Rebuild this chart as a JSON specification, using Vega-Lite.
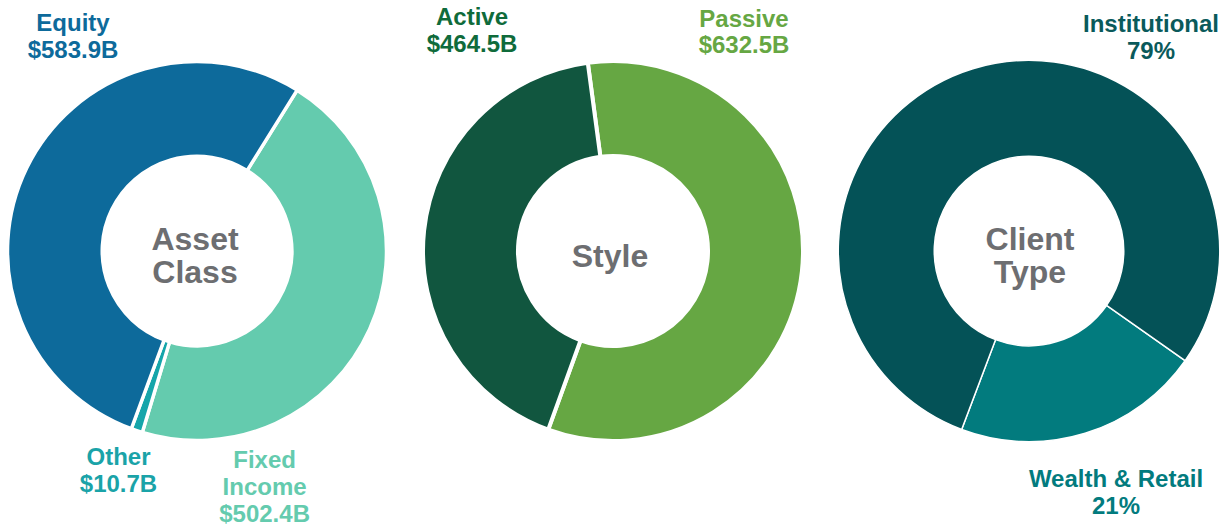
{
  "$schema": "https://vega.github.io/schema/vega-lite/v6.json",
  "width": 1222,
  "height": 502,
  "padding": 0,
  "autosize": {"type": "pad"},
  "background": "white",
  "config": {"view": {"stroke": null}},
  "datasets": {
    "slices": [
      {"chart": "Asset Class", "name": "Fixed Income", "value": 502.4, "ord": 1},
      {"chart": "Asset Class", "name": "Other", "value": 10.7, "ord": 2},
      {"chart": "Asset Class", "name": "Equity", "value": 583.9, "ord": 3},
      {"chart": "Style", "name": "Passive", "value": 632.5, "ord": 1},
      {"chart": "Style", "name": "Active", "value": 464.5, "ord": 2},
      {"chart": "Client Type", "name": "Wealth & Retail", "value": 21, "ord": 1},
      {"chart": "Client Type", "name": "Institutional", "value": 79, "ord": 2}
    ],
    "labels": [
      {"chart": "Asset Class", "name": "Equity", "label": "Equity\n$583.9B"},
      {"chart": "Asset Class", "name": "Other", "label": "Other\n$10.7B"},
      {"chart": "Asset Class", "name": "Fixed Income", "label": "Fixed\nIncome\n$502.4B"},
      {"chart": "Style", "name": "Active", "label": "Active\n$464.5B"},
      {"chart": "Style", "name": "Passive", "label": "Passive\n$632.5B"},
      {"chart": "Client Type", "name": "Institutional", "label": "Institutional\n79%"},
      {"chart": "Client Type", "name": "Wealth & Retail", "label": "Wealth & Retail\n21%"},
      {"chart": "Asset Class", "name": "center", "label": "Asset\nClass"},
      {"chart": "Style", "name": "center", "label": "Style"},
      {"chart": "Client Type", "name": "center", "label": "Client\nType"}
    ]
  },
  "encoding": {
    "x": {
      "field": "chart",
      "type": "nominal",
      "scale": {"type": "point", "domain": ["Asset Class", "Style", "Client Type"], "padding": 0.46875},
      "axis": null
    }
  },
  "layer": [
    {
      "data": {"name": "slices"},
      "transform": [{"filter": "datum.chart === 'Asset Class'"}],
      "mark": {"type": "arc", "outerRadius": 189.5, "innerRadius": 94.75, "stroke": "white", "strokeWidth": 3.5},
      "encoding": {
        "theta": {"field": "value", "type": "quantitative", "stack": true, "scale": {"range": [0.557, 6.840]}},
        "order": {"field": "ord", "type": "quantitative"},
        "color": {
          "field": "name", "type": "nominal", "legend": null,
          "scale": {
            "domain": ["Equity", "Other", "Fixed Income", "Active", "Passive", "Institutional", "Wealth & Retail"],
            "range": ["#0D6A9B", "#15A5AA", "#64CBAE", "#11563F", "#66A743", "#045257", "#027B7E"]
          }
        }
      }
    },
    {
      "data": {"name": "slices"},
      "transform": [{"filter": "datum.chart === 'Style'"}],
      "mark": {"type": "arc", "outerRadius": 190, "innerRadius": 95, "stroke": "white", "strokeWidth": 4},
      "encoding": {
        "theta": {"field": "value", "type": "quantitative", "stack": true, "scale": {"range": [-0.133, 6.150]}},
        "order": {"field": "ord", "type": "quantitative"},
        "color": {"field": "name", "type": "nominal", "legend": null}
      }
    },
    {
      "data": {"name": "slices"},
      "transform": [{"filter": "datum.chart === 'Client Type'"}],
      "mark": {"type": "arc", "outerRadius": 190.75, "innerRadius": 94.75, "stroke": "white", "strokeWidth": 1.5},
      "encoding": {
        "theta": {"field": "value", "type": "quantitative", "stack": true, "scale": {"range": [2.183, 8.466]}},
        "order": {"field": "ord", "type": "quantitative"},
        "color": {"field": "name", "type": "nominal", "legend": null}
      }
    },
    {
      "data": {"name": "labels"},
      "transform": [{"filter": "datum.name === 'Equity'"}],
      "mark": {"type": "text", "font": "Liberation Sans", "fontWeight": "bold", "fontSize": 24, "lineHeight": 26.5, "lineBreak": "\n", "align": "center", "baseline": "alphabetic", "color": "#0D6A9B", "dx": -124, "dy": -220},
      "encoding": {"text": {"field": "label"}}
    },
    {
      "data": {"name": "labels"},
      "transform": [{"filter": "datum.name === 'Other'"}],
      "mark": {"type": "text", "font": "Liberation Sans", "fontWeight": "bold", "fontSize": 24, "lineHeight": 27, "lineBreak": "\n", "align": "center", "baseline": "alphabetic", "color": "#1AA3A8", "dx": -78.5, "dy": 213.5},
      "encoding": {"text": {"field": "label"}}
    },
    {
      "data": {"name": "labels"},
      "transform": [{"filter": "datum.name === 'Fixed Income'"}],
      "mark": {"type": "text", "font": "Liberation Sans", "fontWeight": "bold", "fontSize": 24, "lineHeight": 27, "lineBreak": "\n", "align": "center", "baseline": "alphabetic", "color": "#64CBAE", "dx": 67.6, "dy": 216.5},
      "encoding": {"text": {"field": "label"}}
    },
    {
      "data": {"name": "labels"},
      "transform": [{"filter": "datum.name === 'Active'"}],
      "mark": {"type": "text", "font": "Liberation Sans", "fontWeight": "bold", "fontSize": 24, "lineHeight": 26.7, "lineBreak": "\n", "align": "center", "baseline": "alphabetic", "color": "#0F6B3B", "dx": -141, "dy": -226},
      "encoding": {"text": {"field": "label"}}
    },
    {
      "data": {"name": "labels"},
      "transform": [{"filter": "datum.name === 'Passive'"}],
      "mark": {"type": "text", "font": "Liberation Sans", "fontWeight": "bold", "fontSize": 24, "lineHeight": 26.7, "lineBreak": "\n", "align": "center", "baseline": "alphabetic", "color": "#66A743", "dx": 131, "dy": -224.3},
      "encoding": {"text": {"field": "label"}}
    },
    {
      "data": {"name": "labels"},
      "transform": [{"filter": "datum.name === 'Institutional'"}],
      "mark": {"type": "text", "font": "Liberation Sans", "fontWeight": "bold", "fontSize": 24, "lineHeight": 27.5, "lineBreak": "\n", "align": "center", "baseline": "alphabetic", "color": "#0A5A5B", "dx": 122, "dy": -219.3},
      "encoding": {"text": {"field": "label"}}
    },
    {
      "data": {"name": "labels"},
      "transform": [{"filter": "datum.name === 'Wealth & Retail'"}],
      "mark": {"type": "text", "font": "Liberation Sans", "fontWeight": "bold", "fontSize": 24, "lineHeight": 27.3, "lineBreak": "\n", "align": "center", "baseline": "alphabetic", "color": "#027B7E", "dx": 87, "dy": 235.7},
      "encoding": {"text": {"field": "label"}}
    },
    {
      "data": {"name": "labels"},
      "transform": [{"filter": "datum.name === 'center' && datum.chart === 'Asset Class'"}],
      "mark": {"type": "text", "font": "Liberation Sans", "fontWeight": "bold", "fontSize": 32, "lineHeight": 33, "lineBreak": "\n", "align": "center", "baseline": "alphabetic", "color": "#6D6E71", "dx": -2, "dy": -1},
      "encoding": {"text": {"field": "label"}}
    },
    {
      "data": {"name": "labels"},
      "transform": [{"filter": "datum.name === 'center' && datum.chart === 'Style'"}],
      "mark": {"type": "text", "font": "Liberation Sans", "fontWeight": "bold", "fontSize": 32, "lineHeight": 33, "lineBreak": "\n", "align": "center", "baseline": "alphabetic", "color": "#6D6E71", "dx": -3, "dy": 15.7},
      "encoding": {"text": {"field": "label"}}
    },
    {
      "data": {"name": "labels"},
      "transform": [{"filter": "datum.name === 'center' && datum.chart === 'Client Type'"}],
      "mark": {"type": "text", "font": "Liberation Sans", "fontWeight": "bold", "fontSize": 32, "lineHeight": 33, "lineBreak": "\n", "align": "center", "baseline": "alphabetic", "color": "#6D6E71", "dx": 1, "dy": -1},
      "encoding": {"text": {"field": "label"}}
    }
  ],
  "resolve": {"scale": {"theta": "independent"}}
}
